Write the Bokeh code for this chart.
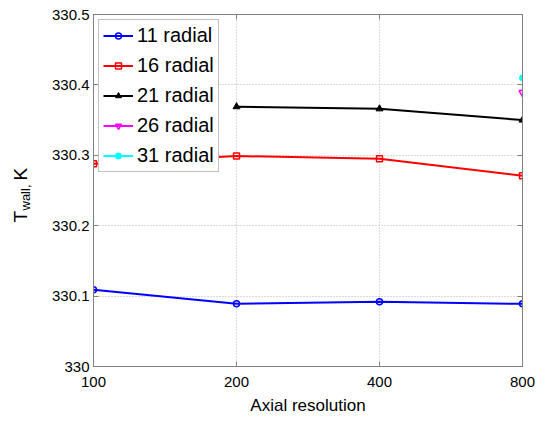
import math
from bokeh.plotting import figure
from bokeh.layouts import row
from bokeh.models import (FixedTicker, Legend, LegendItem, Label, CustomJSTickFormatter, Range1d,
                          LinearAxis, LogAxis)
from bokeh.embed import file_html
from bokeh.resources import INLINE

# ---- data ----
x_ticks = [100, 200, 400, 800]
y_ticks = [330.0, 330.1, 330.2, 330.3, 330.4, 330.5]

r11_x = [100, 200, 400, 800]
r11_y = [330.109, 330.089, 330.092, 330.089]
r16_x = [100, 200, 400, 800]
r16_y = [330.288, 330.299, 330.295, 330.271]
r21_x = [200, 400, 800]
r21_y = [330.369, 330.366, 330.350]
r26_x = [800]
r26_y = [330.389]
r31_x = [800]
r31_y = [330.410]

FONT = "Liberation Sans"
GRAY = "#808080"
LEFT_W = 40

p = figure(width=539 - LEFT_W, height=423, x_axis_type="log",
           x_range=Range1d(100, 800), y_range=Range1d(330.0, 330.5),
           output_backend="svg", toolbar_location=None,
           min_border_left=93 - LEFT_W, min_border_right=17, min_border_top=14, min_border_bottom=57)
p.background_fill_color = "white"
p.border_fill_color = "white"
p.outline_line_color = GRAY

# axes
p.xaxis.ticker = FixedTicker(ticks=x_ticks, minor_ticks=[])
p.xaxis.major_label_overrides = {100: "100", 200: "200", 400: "400", 800: "800"}
p.yaxis.ticker = FixedTicker(ticks=y_ticks, minor_ticks=[])
p.yaxis.formatter = CustomJSTickFormatter(code="var s = tick.toFixed(1); return s.endsWith('.0') ? s.slice(0, -2) : s;")
for ax in (p.xaxis[0], p.yaxis[0]):
    ax.major_tick_in = 5
    ax.major_tick_out = 0
    ax.minor_tick_line_color = None
    ax.axis_line_color = GRAY
    ax.major_tick_line_color = GRAY
    ax.major_label_text_font = FONT
    ax.major_label_text_font_size = "15px"
    ax.major_label_text_color = "black"
p.xaxis.major_label_standoff = 10
p.yaxis.major_label_standoff = 4
p.xaxis.axis_label = "Axial resolution"
p.xaxis.axis_label_text_font = FONT
p.xaxis.axis_label_text_font_size = "17px"
p.xaxis.axis_label_text_font_style = "normal"
p.xaxis.axis_label_text_color = "black"
p.xaxis.axis_label_standoff = 6

# tick-only axes on top and right (MATLAB box style)
blank = CustomJSTickFormatter(code="return '';")
top = LogAxis(ticker=FixedTicker(ticks=x_ticks, minor_ticks=[]), formatter=blank,
              major_tick_in=5, major_tick_out=0, major_tick_line_color=GRAY, axis_line_color=GRAY,
              minor_tick_line_color=None, major_label_standoff=0)
right = LinearAxis(ticker=FixedTicker(ticks=y_ticks, minor_ticks=[]), formatter=blank,
                   major_tick_in=5, major_tick_out=0, major_tick_line_color=GRAY, axis_line_color=GRAY,
                   minor_tick_line_color=None, major_label_standoff=0)
p.add_layout(top, "above")
p.add_layout(right, "right")

# grid
p.xgrid.ticker = FixedTicker(ticks=x_ticks)
p.ygrid.ticker = FixedTicker(ticks=y_ticks)
for g in (p.xgrid[0], p.ygrid[0]):
    g.grid_line_color = "#b4b4b4"
    g.grid_line_dash = "1 2"
    g.grid_line_width = 1

# series
items = []
l = p.line(r11_x, r11_y, line_color="blue", line_width=2)
m = p.scatter(r11_x, r11_y, marker="circle", size=6, line_color="blue", fill_color=None, line_width=1.5)
items.append(LegendItem(label="11 radial", renderers=[l, m]))
l = p.line(r16_x, r16_y, line_color="red", line_width=2)
m = p.scatter(r16_x, r16_y, marker="square", size=6, line_color="red", fill_color=None, line_width=1.5)
items.append(LegendItem(label="16 radial", renderers=[l, m]))
l = p.line(r21_x, r21_y, line_color="black", line_width=2)
m = p.scatter(r21_x, r21_y, marker="triangle", size=7, line_color="black", fill_color="black", line_width=1)
items.append(LegendItem(label="21 radial", renderers=[l, m]))
l = p.line(r26_x, r26_y, line_color="magenta", line_width=2)
m = p.scatter(r26_x, r26_y, marker="inverted_triangle", size=7, line_color="magenta", fill_color=None, line_width=1.5)
items.append(LegendItem(label="26 radial", renderers=[l, m]))
l = p.line(r31_x, r31_y, line_color="cyan", line_width=2)
m = p.scatter(r31_x, r31_y, marker="circle", size=6, line_color="cyan", fill_color="cyan", line_width=1)
items.append(LegendItem(label="31 radial", renderers=[l, m]))

legend = Legend(items=items, location="top_left",
                label_text_font=FONT, label_text_font_size="20px", label_text_color="black",
                border_line_color=GRAY, border_line_width=1,
                background_fill_color="white", background_fill_alpha=1,
                glyph_width=30, glyph_height=15, label_height=20, spacing=7, padding=4, margin=5,
                label_standoff=4)
p.add_layout(legend)

# narrow side figure holding the rotated y-axis label with subscript
q = figure(width=LEFT_W, height=423, x_range=Range1d(0, 1), y_range=Range1d(0, 1),
           output_backend="svg", toolbar_location=None,
           min_border_left=0, min_border_right=0, min_border_top=0, min_border_bottom=0)
q.axis.visible = False
q.grid.visible = False
q.outline_line_color = None
q.background_fill_color = "white"
q.border_fill_color = "white"

# frame of q is aligned with the main frame (bottom at canvas y=366)
bx = 20        # baseline of main text, from left edge
by = 366 - 222 # start of the text, from frame bottom
q.add_layout(Label(x=bx, y=by, x_units="screen", y_units="screen", text="T",
                   angle=math.pi / 2, text_font=FONT, text_font_size="19px", text_color="black",
                   text_align="left", text_baseline="alphabetic"))
q.add_layout(Label(x=bx + 5, y=by + 12, x_units="screen", y_units="screen", text="wall,",
                   angle=math.pi / 2, text_font=FONT, text_font_size="13px", text_color="black",
                   text_align="left", text_baseline="alphabetic"))
q.add_layout(Label(x=bx, y=by + 42, x_units="screen", y_units="screen", text="K",
                   angle=math.pi / 2, text_font=FONT, text_font_size="19px", text_color="black",
                   text_align="left", text_baseline="alphabetic"))

layout = row(q, p, spacing=0)
open("out.html", "w").write(file_html(layout, INLINE))
